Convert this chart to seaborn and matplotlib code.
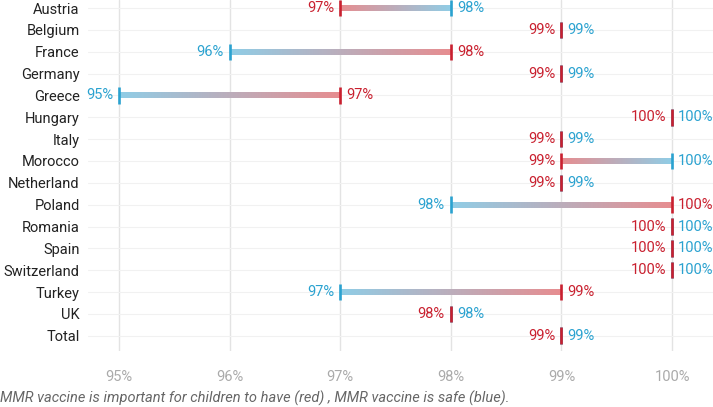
import numpy as np
import pandas as pd
import seaborn as sns
import matplotlib.pyplot as plt
from matplotlib.colors import to_rgb

countries = ["Austria", "Belgium", "France", "Germany", "Greece", "Hungary", "Italy",
             "Morocco", "Netherland", "Poland", "Romania", "Spain", "Switzerland",
             "Turkey", "UK", "Total"]
important = [97, 99, 98, 99, 97, 100, 99, 99, 99, 100, 100, 100, 100, 99, 98, 99]
safe = [98, 99, 96, 99, 95, 100, 99, 100, 99, 98, 100, 100, 100, 97, 98, 99]
x_ticks = [95, 96, 97, 98, 99, 100]

RED_DARK = "#c9202f"
BLUE_DARK = "#2aa2d0"
RED_LIGHT = "#e78d90"
BLUE_LIGHT = "#90cde6"

sns.set_theme(style="whitegrid")
plt.rcParams['font.family'] = ['Roboto', 'DejaVu Sans']

df = pd.DataFrame({"country": countries, "important": important, "safe": safe})
df["y"] = np.arange(len(df))

fig = plt.figure(figsize=(7.13, 4.07), dpi=100)
ax = fig.add_axes([88 / 713, 1 - 351 / 407, 1 - 88 / 713, 351 / 407])

# gradient bars
half = 0.135
for _, r in df.iterrows():
    if r["important"] == r["safe"]:
        continue
    lo, hi = sorted([r["important"], r["safe"]])
    c_lo = RED_LIGHT if r["important"] == lo else BLUE_LIGHT
    c_hi = BLUE_LIGHT if r["important"] == lo else RED_LIGHT
    a, b = np.array(to_rgb(c_lo)), np.array(to_rgb(c_hi))
    t = np.linspace(0, 1, 256)[:, None]
    grad = (a * (1 - t) + b * t)[None, :, :]
    ax.imshow(grad, extent=(lo, hi, r["y"] + half, r["y"] - half), aspect="auto",
              interpolation="bilinear", zorder=2)

long = df.melt(id_vars=["country", "y"], value_vars=["safe", "important"],
               var_name="item", value_name="pct")
sns.scatterplot(data=long, x="pct", y="y", hue="item", marker="|", s=140,
                linewidth=1.9, palette={"safe": BLUE_DARK, "important": RED_DARK},
                legend=False, ax=ax, zorder=3)

for _, r in df.iterrows():
    imp, sf, y = r["important"], r["safe"], r["y"]
    if imp <= sf:
        left, lc, right, rc = imp, RED_DARK, sf, BLUE_DARK
    else:
        left, lc, right, rc = sf, BLUE_DARK, imp, RED_DARK
    ax.text(left - 0.055, y, f"{left}%", color=lc, ha="right", va="center", fontsize=10.5)
    ax.text(right + 0.055, y, f"{right}%", color=rc, ha="left", va="center", fontsize=10.5)

ax.set_xlim(94.72, 100.37)
ax.set_ylim(15.7, -0.37)
ax.set_xticks(x_ticks)
ax.set_xticklabels([f"{v}%" for v in x_ticks], color="#aaaaaa", fontsize=10.5)
ax.set_yticks(df["y"])
ax.set_yticklabels(df["country"], color="#222222", fontsize=10.5)
ax.tick_params(axis="both", length=0)
ax.tick_params(axis="x", pad=14)
ax.tick_params(axis="y", pad=6)
ax.set_xlabel("")
ax.set_ylabel("")
ax.grid(axis="x", color="#e3e3e3", linewidth=1)
ax.grid(axis="y", color="#f1f1f1", linewidth=0.8)
for s in ax.spines.values():
    s.set_visible(False)

fig.text(0.0, 1 - 398 / 407, "MMR vaccine is important for children to have (red) , MMR vaccine is safe (blue).",
         fontsize=10.5, style="italic", color="#666666", va="center", ha="left")

fig.savefig("out.png", dpi=100)
